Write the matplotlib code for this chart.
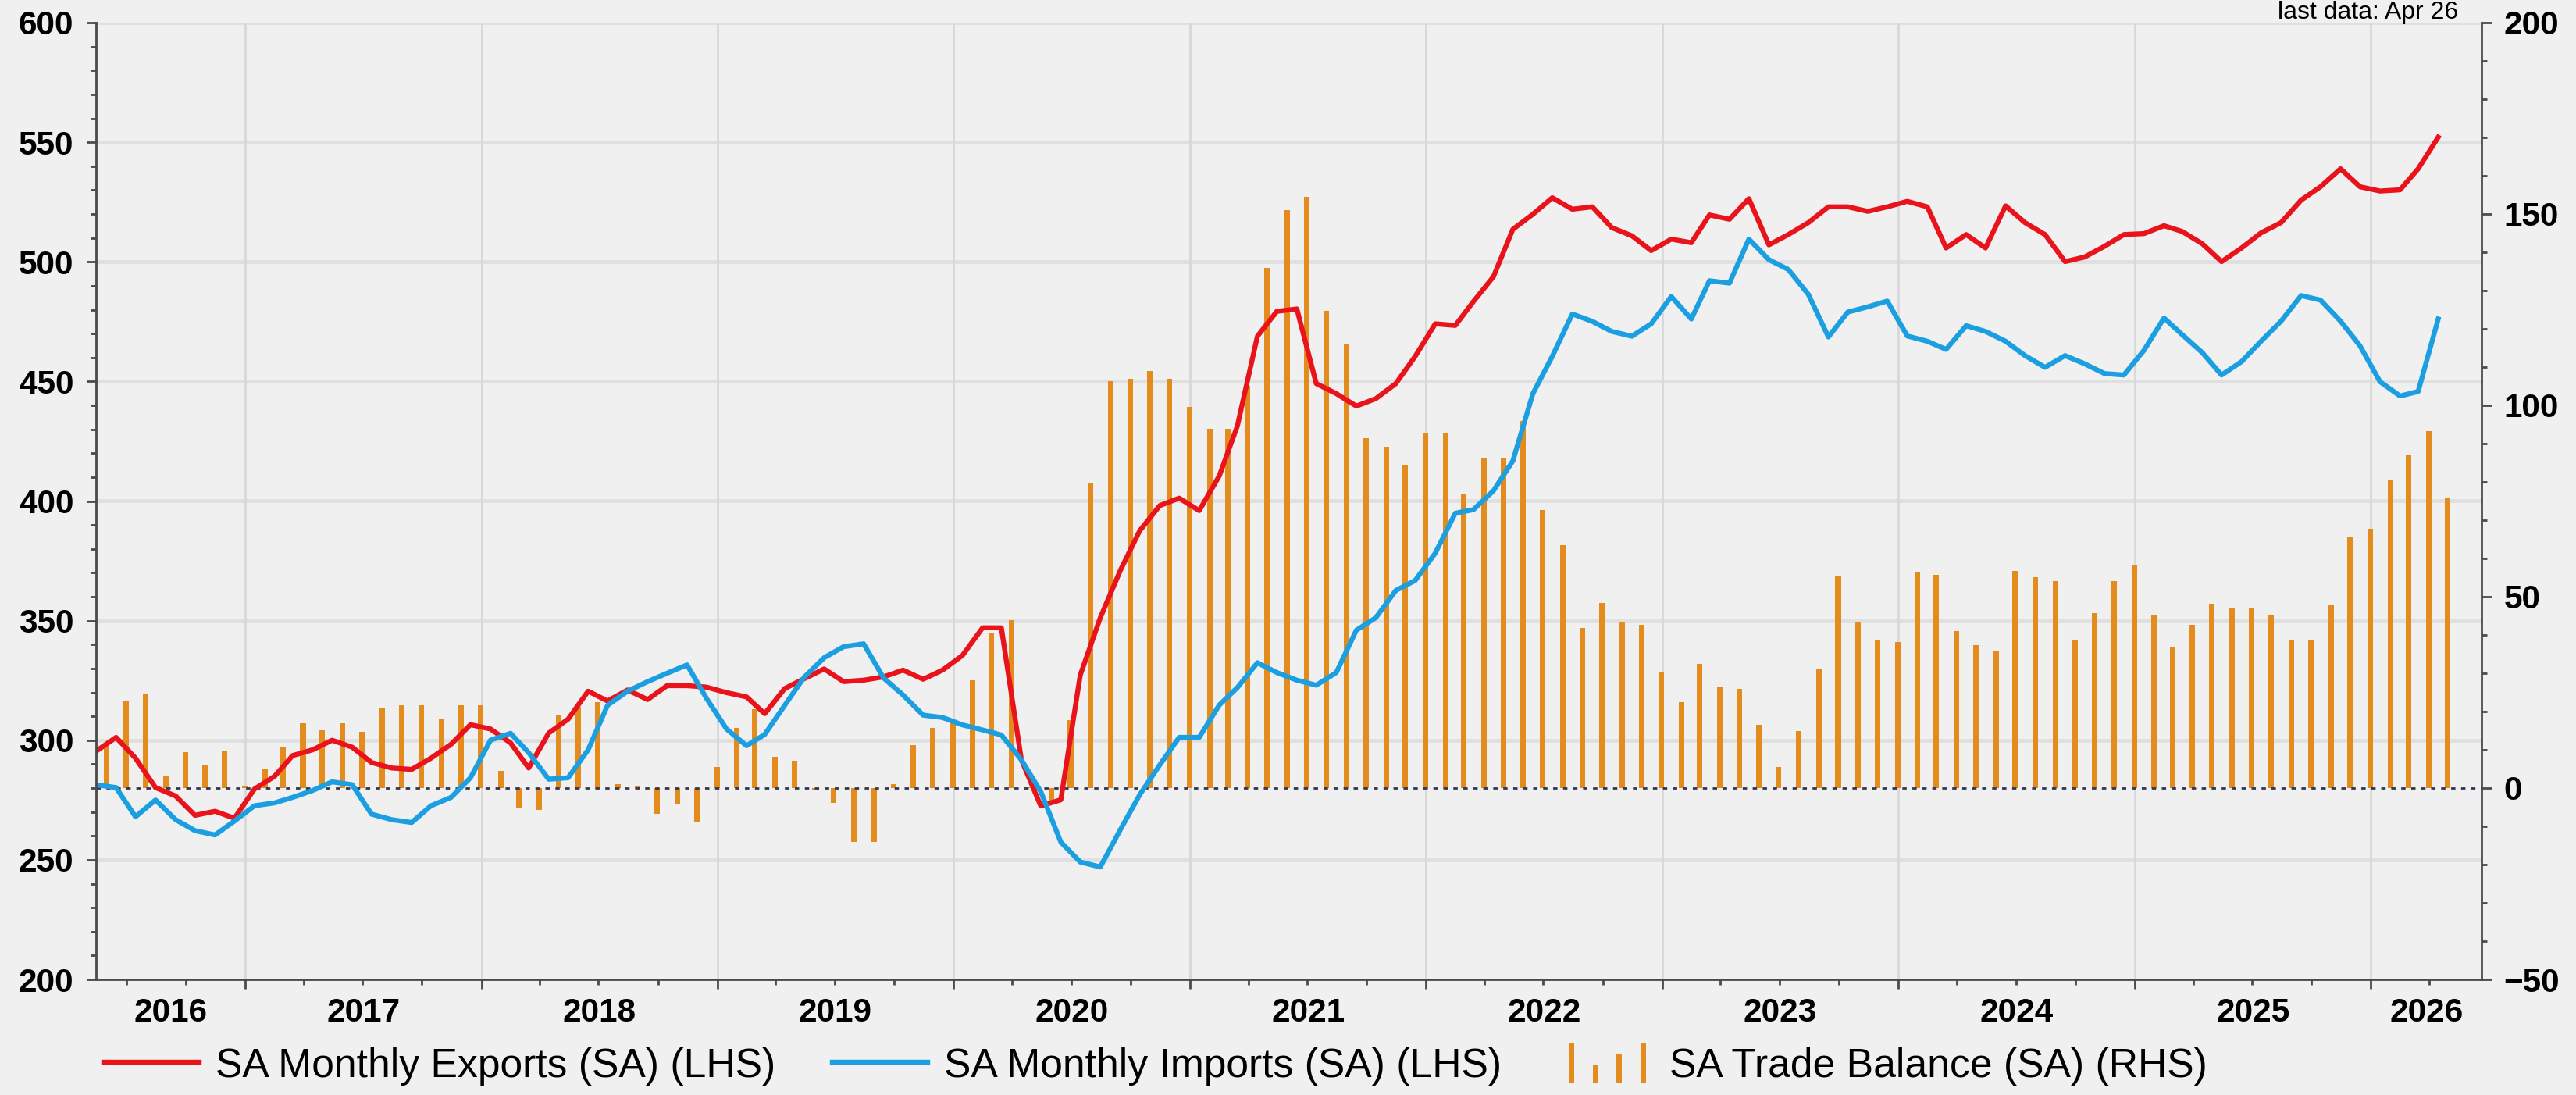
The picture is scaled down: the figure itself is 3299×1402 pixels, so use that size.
import matplotlib
matplotlib.use('Agg')
import matplotlib.pyplot as plt
import matplotlib.dates as mdates
from matplotlib.ticker import MultipleLocator, NullFormatter
from matplotlib.legend_handler import HandlerBase
from matplotlib.patches import Rectangle
import pandas as pd
from datetime import datetime

plt.rcParams['font.family'] = ['Liberation Sans', 'DejaVu Sans']

# monthly data, May 2016 .. Apr 2026
months = pd.date_range('2016-05-01', '2026-04-01', freq='MS')

exports = [
    295.4, 301.2, 292.5, 280.2, 276.7, 268.6, 270.3, 267.4, 279.6, 284.9,
    293.6, 296.0, 300.0, 297.1, 290.7, 288.4, 287.8, 292.5, 298.3, 306.5,
    304.7, 298.9, 288.4, 303.0, 308.8, 320.5, 316.4, 321.0, 317.0, 322.8,
    322.8, 322.2, 319.9, 318.1, 311.1, 321.6, 325.7, 329.8, 324.5, 325.1,
    326.5, 329.3, 325.5, 329.3, 335.5, 347.0, 347.0, 291.8, 272.5, 275.1,
    327.2, 351.2, 371.0, 387.6, 398.1, 401.2, 396.0, 410.5, 431.4, 468.9,
    479.3, 480.3, 449.1, 444.9, 439.7, 442.8, 449.1, 460.5, 474.1, 473.4,
    483.4, 493.8, 513.6, 519.9, 526.8, 522.0, 523.0, 514.3, 510.9, 504.7,
    509.5, 508.0, 519.6, 517.8, 526.4, 507.1, 511.4, 516.4, 523.0, 523.0,
    521.1, 523.0, 525.3, 523.0, 505.8, 511.4, 505.8, 523.4, 516.4, 511.4,
    500.1, 502.0, 506.5, 511.4, 511.8, 515.1, 512.7, 507.6, 500.1, 505.8,
    512.1, 516.4, 525.8, 531.4, 538.9, 531.4, 529.6, 530.1, 538.9, 552.1,
]

imports = [
    281.4, 280.2, 268.0, 275.0, 266.8, 262.2, 260.4, 266.2, 272.6, 273.8,
    276.1, 279.0, 282.6, 281.4, 269.1, 266.8, 265.6, 272.6, 276.1, 284.3,
    300.0, 302.9, 294.8, 283.7, 284.3, 296.0, 314.6, 320.5, 324.5, 328.0,
    331.5, 317.5, 304.7, 297.7, 302.4, 314.6, 326.3, 334.5, 339.1, 340.3,
    326.0, 318.9, 310.5, 309.5, 306.4, 304.3, 302.2, 291.8, 278.5, 257.4,
    249.1, 247.0, 262.6, 277.2, 289.7, 301.2, 301.2, 314.7, 322.0, 332.4,
    328.3, 325.1, 323.0, 328.3, 346.0, 351.2, 362.6, 366.8, 378.2, 394.9,
    396.4, 404.3, 416.8, 444.9, 460.5, 478.2, 475.1, 470.9, 468.9, 474.1,
    485.5, 476.1, 492.1, 491.1, 509.5, 500.9, 496.8, 486.4, 468.6, 479.0,
    481.2, 483.6, 469.0, 466.8, 463.4, 473.3, 470.9, 466.8, 460.8, 455.9,
    460.8, 457.4, 453.3, 452.7, 463.0, 476.5, 469.6, 462.1, 452.7, 458.3,
    466.8, 475.2, 485.9, 484.0, 475.2, 464.9, 449.9, 443.9, 445.8, 476.1,
]

balance = [
    11.0, 22.7, 24.6, 3.1, 9.3, 6.0, 9.6, 0.5, 4.9, 10.7,
    16.9, 15.1, 16.9, 14.7, 20.9, 21.6, 21.6, 18.0, 21.6, 21.6,
    4.5, -5.3, -5.7, 19.1, 21.3, 22.4, 1.0, 0.5, -6.8, -4.3,
    -9.0, 5.6, 15.8, 20.6, 8.2, 7.1, -0.5, -3.9, -14.1, -14.1,
    1.0, 11.3, 15.8, 17.1, 28.2, 40.6, 43.8, 0.3, -4.0, 17.8,
    79.6, 106.3, 107.0, 109.0, 107.0, 99.6, 93.9, 93.9, 105.0, 136.0,
    151.0, 154.5, 124.6, 116.1, 91.4, 89.1, 84.2, 92.6, 92.6, 77.0,
    86.1, 86.1, 96.0, 72.7, 63.4, 41.9, 48.4, 43.2, 42.6, 30.2,
    22.4, 32.4, 26.5, 25.9, 16.6, 5.6, 14.8, 31.2, 55.6, 43.5,
    38.8, 38.2, 56.4, 55.8, 41.1, 37.3, 35.9, 56.7, 55.2, 54.0,
    38.5, 45.8, 54.1, 58.4, 45.0, 37.0, 42.6, 48.2, 47.0, 47.0,
    45.3, 38.8, 38.8, 47.8, 65.8, 67.7, 80.6, 86.9, 93.3, 75.7,
]

years = list(range(2016, 2027))
labels = ['SA Monthly Exports (SA) (LHS)', 'SA Monthly Imports (SA) (LHS)',
          'SA Trade Balance (SA) (RHS)']

bg = '#f0f0f0'
red = '#e8131b'
blue = '#1c9fe0'
orange = '#e38b1d'
spine_col = '#4a4a4a'


class BarIconHandler(HandlerBase):
    def create_artists(self, legend, orig_handle, xdescent, ydescent,
                       width, height, fontsize, trans):
        rel = [1.0, 0.42, 0.7, 1.0]
        step = width * 0.25
        w = width * 0.055
        x0 = -xdescent + width * 0.14
        out = []
        for k, h in enumerate(rel):
            out.append(Rectangle((x0 + k * step - w / 2, -ydescent - height * 0.2),
                                 w, height * 1.4 * h, facecolor=orange,
                                 edgecolor='none', transform=trans))
        return out


fig = plt.figure(figsize=(3299 / 200, 1402 / 200), dpi=200, facecolor=bg)
ax = fig.add_axes([123 / 3299, 1 - 1254 / 1402, (3178 - 123) / 3299, (1254 - 29) / 1402])
ax2 = ax.twinx()
ax.set_zorder(2)
ax2.set_zorder(1)
ax.patch.set_visible(False)
ax2.patch.set_visible(False)

line_x = months + pd.Timedelta(days=14)
bar_x = months + pd.offsets.MonthEnd(0)

ax.set_ylim(200, 600)
ax2.set_ylim(-50, 200)
ax.set_xlim(datetime(2016, 5, 15), datetime(2026, 6, 21))

# grid, drawn underneath the bars
ax2.hlines(range(250, 601, 50), 0, 1, transform=ax.get_yaxis_transform(),
           colors='#dfdfdf', lw=1.7, zorder=0)
for y in years[1:]:
    ax2.axvline(datetime(y, 1, 1), color='#d8d8d8', lw=1.0, zorder=0)

bars = ax2.bar(bar_x, balance, width=8.5, color=orange, zorder=2)
ax2.axhline(0, color='#35354f', lw=1.0, ls=(0, (2, 2.6)), zorder=3)

l1, = ax.plot(line_x, exports, color=red, lw=2.3, solid_joinstyle='round')
l2, = ax.plot(line_x, imports, color=blue, lw=2.3, solid_joinstyle='round')

# spines
for s in ['top', 'right']:
    ax.spines[s].set_visible(False)
for s in ['top', 'left', 'bottom']:
    ax2.spines[s].set_visible(False)
for a, s in [(ax, 'left'), (ax, 'bottom'), (ax2, 'right')]:
    a.spines[s].set_color(spine_col)
    a.spines[s].set_linewidth(1.0)

# ticks
ax.yaxis.set_major_locator(MultipleLocator(50))
ax.yaxis.set_minor_locator(MultipleLocator(10))
ax2.yaxis.set_major_locator(MultipleLocator(50))
ax2.yaxis.set_minor_locator(MultipleLocator(10))
ax.xaxis.set_major_locator(mdates.YearLocator())
ax.xaxis.set_minor_locator(mdates.MonthLocator(bymonth=[4, 7, 10]))
ax.xaxis.set_major_formatter(NullFormatter())

for a in (ax, ax2):
    a.tick_params(axis='y', which='major', direction='out', length=4.5, width=1.0,
                  color=spine_col, pad=5.8, labelsize=15.2)
    a.tick_params(axis='y', which='minor', direction='out', length=2.5, width=1.0,
                  color=spine_col)
ax.tick_params(axis='x', which='major', direction='out', length=4.3, width=1.0,
               color=spine_col)
ax.tick_params(axis='x', which='minor', direction='out', length=2.5, width=1.0,
               color=spine_col)
for lab in ax.get_yticklabels() + ax2.get_yticklabels():
    lab.set_fontweight('bold')

# year labels centred in the visible part of each year
x_lo, x_hi = ax.get_xlim()
for y in years:
    a = max(mdates.date2num(datetime(y, 1, 1)), x_lo)
    b = min(mdates.date2num(datetime(y + 1, 1, 1)), x_hi)
    ax.text((a + b) / 2, -0.035, str(y), transform=ax.get_xaxis_transform(),
            ha='center', va='center', fontsize=15.2, fontweight='bold')

fig.legend([l1, l2, bars], labels, loc='center left',
           bbox_to_anchor=(133 / 3299, 1 - 1365 / 1402), ncol=3, frameon=False,
           fontsize=18.6, handlelength=2.37, handletextpad=0.4, columnspacing=1.4,
           borderpad=0, borderaxespad=0, handler_map={bars: BarIconHandler()})

fig.text(3148 / 3299, 1 - 24 / 1402, 'last data: Apr 26', ha='right', va='baseline',
         fontsize=11.5)

fig.savefig('out.png', dpi=200, facecolor=bg)
